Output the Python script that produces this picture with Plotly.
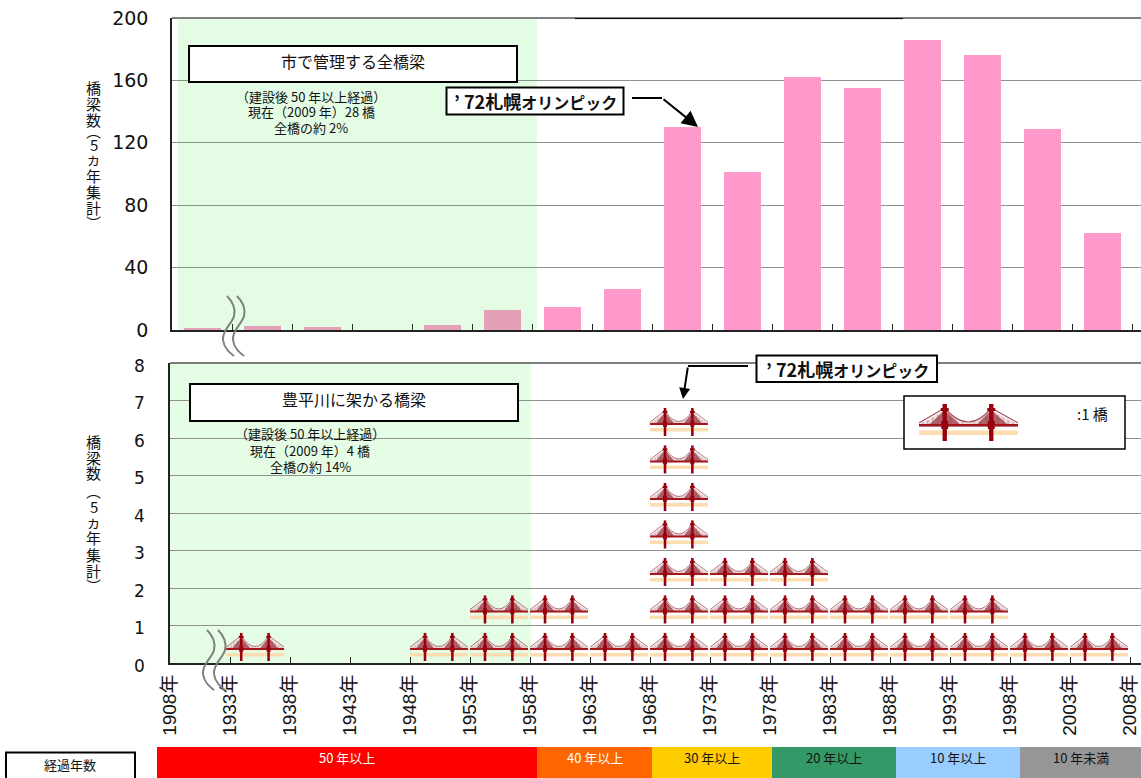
import base64
import plotly.graph_objects as go

W, H = 1141, 778
periods = ["1908年", "1933年", "1938年", "1943年", "1948年", "1953年", "1958年", "1963年",
           "1968年", "1973年", "1978年", "1983年", "1988年", "1993年", "1998年", "2003年", "2008年"]
all_bridges = [1.2, 2.5, 2, 0, 3, 13, 15, 26, 130, 101, 162, 155, 186, 176, 129, 62]
toyohira_bridges = [0, 1, 0, 0, 1, 2, 2, 1, 7, 3, 3, 2, 2, 2, 1, 1]
band_labels = ["50 年以上", "40 年以上", "30 年以上", "20 年以上", "10 年以上", "10 年未満"]
band_colors = ["#ff0000", "#ff6600", "#ffcc00", "#339966", "#99ccff", "#969696"]
band_text = ["white", "white", "#111", "#111", "#111", "#111"]
band_edges_px = [157, 537, 652, 772, 896, 1020, 1141]

JP = "Noto Sans CJK JP"
LAT = "Liberation Sans, " + JP


def px(x):
    return x / W


def py(y):
    return 1 - y / H


BRIDGE_SVG = """<svg xmlns="http://www.w3.org/2000/svg" width="200" height="76" viewBox="0 0 100 38" preserveAspectRatio="none">
<defs><filter id="b" x="-5%" y="-5%" width="110%" height="110%"><feGaussianBlur stdDeviation="0.55"/></filter></defs>
<g filter="url(#b)">
<rect x="0" y="26.5" width="100" height="4.5" fill="#fcdcb0"/>
<path d="M0 21 L26 6 Q50 30 73 6 L100 21 Z" fill="#e6dcdc"/>
<path d="M4 21V18M9 21V16M14 21V13M19 21V11M32 21V13M38 21V17M44 21V19M50 21V20M56 21V19M62 21V17M68 21V13M80 21V11M85 21V14M90 21V16M95 21V18" stroke="#c08c94" stroke-width="0.9"/>
<path d="M0 19 L26 4 Q50 32 73 4 L100 19" fill="none" stroke="#a8505c" stroke-width="1.2"/>
<path d="M10 21 L26 6 L42 21 Z M58 21 L73 6 L90 21 Z" fill="#a03c48" opacity="0.78"/>
<rect x="0" y="20" width="100" height="2.6" fill="#a3121c"/>
<path d="M23.8 0H28.2V37H23.8Z M70.8 0H75.2V37H70.8Z" fill="#98060f"/>
<path d="M22 4H30V7H22Z M69 4H77V7H69Z M22.5 17H29.5V25H22.5Z M69.5 17H76.5V25H69.5Z" fill="#98060f"/>
</g></svg>"""
BRIDGE_URI = "data:image/svg+xml;base64," + base64.b64encode(BRIDGE_SVG.encode()).decode()

LEFT_TOP, LEFT_LOW = 172, 170
STEP_TOP, STEP_LOW = 60.06, 60.0
n_cat = len(all_bridges)
centers = [i + 0.5 for i in range(n_cat)]

fig = go.Figure()
fig.add_bar(x=centers, y=all_bridges, width=0.617, marker=dict(color="#ff99cc", line_width=0),
            xaxis="x", yaxis="y", showlegend=False)

row_x, row_y = [], []
images = []
for i, count in enumerate(toyohira_bridges):
    for r in range(count):
        row_x.append(i + 0.5)
        row_y.append(r + 0.5)
        shift = -0.08 if i == 1 else -0.017
        images.append(dict(source=BRIDGE_URI, xref="x2", yref="y2", x=i + 0.5 + shift, y=r + 0.42,
                           sizex=0.97, sizey=0.78, xanchor="center", yanchor="middle",
                           sizing="stretch", layer="above"))
fig.add_scatter(x=row_x, y=row_y, mode="markers", marker=dict(size=1, opacity=0), xaxis="x2", yaxis="y2",
                showlegend=False)
images.append(dict(source=BRIDGE_URI, xref="paper", yref="paper", x=px(919), y=py(404), sizex=99 / W, sizey=38 / H,
                   xanchor="left", yanchor="top", sizing="stretch", layer="above"))

shapes = []
anns = []


def line(x0, y0, x1, y1, color, width):
    shapes.append(dict(type="line", xref="paper", yref="paper", x0=px(x0), y0=py(y0), x1=px(x1), y1=py(y1),
                       line=dict(color=color, width=width)))


def box(x0, y0, x1, y1, fill="white", color="black", width=2):
    shapes.append(dict(type="rect", xref="paper", yref="paper", x0=px(x0), y0=py(y0), x1=px(x1), y1=py(y1),
                       fillcolor=fill, line=dict(color=color, width=width)))


def text(x, y, s, size=12, color="#111", family=JP, anchor="center", weight="normal"):
    anns.append(dict(xref="paper", yref="paper", x=px(x), y=py(y), text=s, showarrow=False,
                     xanchor=anchor, yanchor="middle", font=dict(family=family, size=size, color=color, weight=weight)))


def wave(x, y):
    d = f"M{px(x)},{py(y)} C{px(x + 6)},{py(y + 6)} {px(x + 9)},{py(y + 12)} {px(x + 7)},{py(y + 20)} " \
        f"C{px(x + 5)},{py(y + 28)} {px(x - 5)},{py(y + 34)} {px(x - 4)},{py(y + 44)} " \
        f"C{px(x - 3)},{py(y + 52)} {px(x + 2)},{py(y + 56)} {px(x + 7)},{py(y + 60)}"
    shapes.append(dict(type="path", xref="paper", yref="paper", path=d, line=dict(color="#808080", width=2)))


def arrow(x0, y0, x1, y1, size):
    anns.append(dict(xref="paper", yref="paper", x=px(x1), y=py(y1), text="", showarrow=True,
                     axref="pixel", ayref="pixel", ax=x0 - x1, ay=y0 - y1, arrowhead=2, arrowsize=size,
                     arrowwidth=2, arrowcolor="black", standoff=0, startstandoff=0))


# green "over 50 years" zones
shapes.append(dict(type="rect", xref="x", yref="y", x0=(178 - LEFT_TOP) / STEP_TOP, x1=(537 - LEFT_TOP) / STEP_TOP,
                   y0=0, y1=199.3, fillcolor="rgba(0,225,0,0.105)", line_width=0, layer="above"))
shapes.append(dict(type="rect", xref="x2", yref="y2", x0=0, x1=(531 - LEFT_LOW) / STEP_LOW,
                   y0=0, y1=8, fillcolor="rgba(0,225,0,0.10)", line_width=0, layer="below"))
# legend plate sits above the gridlines but under the pictogram
shapes.append(dict(type="rect", xref="x2", yref="y2", x0=(904 - LEFT_LOW) / STEP_LOW, x1=(1125 - LEFT_LOW) / STEP_LOW,
                   y0=(663 - 449) / 37.5, y1=(663 - 396) / 37.5, fillcolor="white",
                   line=dict(color="black", width=1.5), layer="between"))

# frame lines
line(172, 18, W, 18, "#555555", 1.5)
line(575, 18.6, 903, 18.6, "black", 1)
line(170, 363, W, 363, "#555555", 1.5)

OLYMPIC = "’ 72札幌<span style='font-size:16px'>オリンピック</span>"

# top panel labels
box(189, 46, 517, 82)
text(353, 61, "市で管理する全橋梁", 16)
text(311, 96, "（建設後 50 年以上経過）", 13)
text(311, 112, "現在（2009 年）28 橋", 13)
text(311, 128, "全橋の約 2%", 13)
box(446.5, 87.5, 623.5, 114.5)
line(632, 98, 662, 98, "black", 2)
arrow(662, 98, 698, 127, 1.6)
text(535, 101, OLYMPIC, 18, weight="bold")

# lower panel labels
box(190, 384, 518, 421)
text(354, 399, "豊平川に架かる橋梁", 16)
text(310, 434, "（建設後 50 年以上経過）", 13)
text(310, 450, "現在（2009 年）4 橋", 13)
text(310, 466, "全橋の約 14%", 13)
box(756.5, 355.5, 937, 382)
line(748, 366, 688, 366, "black", 2)
arrow(688, 366, 683, 399, 1.1)
text(847, 369, OLYMPIC, 18, weight="bold")
text(1092, 413, ":1 橋", 15)

# axis titles built as stacked characters
for ch, y in zip("橋梁数︵5ヵ年集計︶", [87, 103, 119, 131, 144, 159, 175, 191, 207, 222]):
    text(93.5, y, ch, 15)
for ch, y in zip("橋梁数︵5ヵ年集計︶", [441, 457, 473, 490, 506, 521, 537, 554, 570, 585]):
    text(93.5, y, ch, 15)

wave(227, 296)
wave(237, 296)
wave(207, 630)
wave(218, 630)

# age bands
for i, (lab, col, tc) in enumerate(zip(band_labels, band_colors, band_text)):
    x0, x1 = band_edges_px[i], band_edges_px[i + 1]
    box(x0, 747, x1, 790, fill=col, color=col, width=0)
    text((x0 + x1) / 2, 757.5, lab, 13, color=tc)
box(6, 752.5, 135, 790)
text(70, 764, "経過年数", 13)

# clipped title at the very top of the page
anns.append(dict(xref="paper", yref="paper", x=px(630), y=py(3), text="【橋梁の建設年度別橋梁数】", showarrow=False,
                 xanchor="center", yanchor="bottom", font=dict(family=JP, size=25, color="black", weight="bold")))

grid = dict(showgrid=True, gridcolor="#909090", gridwidth=1, zeroline=False, showline=True, linecolor="#222",
            linewidth=1.5, ticks="", color="#111")
fig.update_layout(
    width=W, height=H, autosize=False, margin=dict(l=0, r=0, t=0, b=0, autoexpand=False),
    paper_bgcolor="white", plot_bgcolor="rgba(0,0,0,0)", showlegend=False, bargap=0,
    shapes=shapes, annotations=anns, images=images,
    xaxis=dict(domain=[px(LEFT_TOP), 1], range=[0, (W - LEFT_TOP) / STEP_TOP], anchor="y",
               tickvals=list(range(n_cat + 1)), showticklabels=False, ticks="inside", ticklen=6, tickcolor="#222",
               showgrid=False, zeroline=False, showline=True, linecolor="#222", linewidth=2),
    yaxis=dict(domain=[py(330), py(18)], range=[0, 200], anchor="x", tickvals=[0, 40, 80, 120, 160, 200],
               tickfont=dict(family="DejaVu Sans", size=19, color="#111"), ticklabelstandoff=18, **grid),
    xaxis2=dict(domain=[px(LEFT_LOW), 1], range=[0, (W - LEFT_LOW) / STEP_LOW], anchor="y2",
                tickvals=list(range(n_cat + 1)), ticktext=periods, tickangle=-90,
                tickfont=dict(family=LAT, size=19, color="#111"), ticks="inside", ticklen=6, tickcolor="#222",
                ticklabelstandoff=2, showgrid=False, zeroline=False, showline=True,
                linecolor="#222", linewidth=2),
    yaxis2=dict(domain=[py(663), py(363)], range=[0, 8], anchor="x2", tickvals=list(range(9)),
                tickfont=dict(family="DejaVu Sans", size=17, color="#111"), ticklabelstandoff=20,
                ticklabelshift=3, **grid),
)
fig.write_html("out.html", config=dict(displayModeBar=False),
               post_script="document.body.style.margin='0';document.documentElement.style.overflow='hidden';")
